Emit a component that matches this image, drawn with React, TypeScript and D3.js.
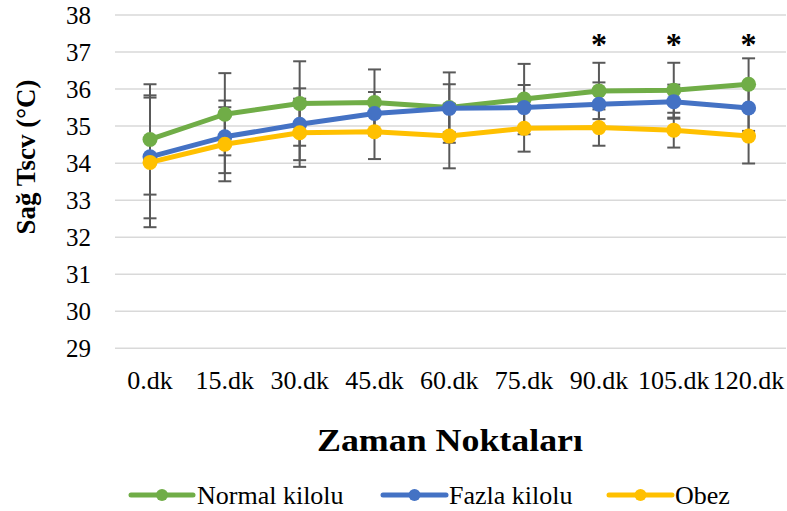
import React from "react";
import * as d3 from "d3";

const categories = ["0.dk", "15.dk", "30.dk", "45.dk", "60.dk", "75.dk", "90.dk", "105.dk", "120.dk"];
const normalKilolu = [34.64, 35.32, 35.61, 35.64, 35.5, 35.73, 35.95, 35.97, 36.13];
const fazlaKilolu = [34.17, 34.71, 35.05, 35.34, 35.48, 35.5, 35.59, 35.66, 35.49];
const obez = [34.02, 34.51, 34.82, 34.85, 34.73, 34.94, 34.96, 34.89, 34.73];
const normalErr = [1.49, 1.11, 1.14, 0.89, 0.95, 0.95, 0.76, 0.74, 0.7];
const fazlaErr = [1.66, 0.98, 0.97, 0.58, 0.65, 0.61, 0.59, 0.46, 0.62];
const obezErr = [1.75, 1.0, 0.92, 0.74, 0.87, 0.63, 0.49, 0.47, 0.74];
const yTicks = [29, 30, 31, 32, 33, 34, 35, 36, 37, 38];
const significant = ["90.dk", "105.dk", "120.dk"];

const seriesNames = ["Normal kilolu", "Fazla kilolu", "Obez"];
const seriesColors = ["#70AD47", "#4472C4", "#FFC000"];
const seriesValues = [normalKilolu, fazlaKilolu, obez];
const seriesErrs = [normalErr, fazlaErr, obezErr];

const FONT = "'Liberation Serif', 'Times New Roman', serif";

export default function App() {
  const W = 787;
  const H = 511;
  const x = d3.scalePoint<string>().domain(categories).range([112.6, 786]).padding(0.5);
  const y = d3.scaleLinear().domain([29, 38]).range([348.3, 15]);
  const line = d3
    .line<number>()
    .x((_, i) => x(categories[i]) as number)
    .y((d) => y(d));

  const legendItems = [
    { x0: 131, x1: 193, tx: 197 },
    { x0: 383, x1: 446, tx: 449 },
    { x0: 609, x1: 672, tx: 675 },
  ];

  return (
    <svg width={W} height={H} style={{ position: "absolute", left: 0, top: 0, background: "#fff" }}>
      {yTicks.map((t) => (
        <line key={"g" + t} x1={115} x2={786} y1={y(t)} y2={y(t)} stroke="#d9d9d9" strokeWidth={1.5} />
      ))}
      {yTicks.map((t) => (
        <text
          key={"yt" + t}
          x={91}
          y={y(t)}
          dy="0.35em"
          textAnchor="end"
          fontFamily={FONT}
          fontSize={25}
          fill="#000"
        >
          {t}
        </text>
      ))}
      {categories.map((c) => (
        <text
          key={"xt" + c}
          x={x(c)}
          y={389}
          textAnchor="middle"
          fontFamily={FONT}
          fontSize={26}
          fill="#000"
        >
          {c}
        </text>
      ))}
      <text
        x={450}
        y={451}
        textAnchor="middle"
        fontFamily={FONT}
        fontSize={31}
        fontWeight="bold"
        textLength={266}
        lengthAdjust="spacingAndGlyphs"
      >
        Zaman Noktaları
      </text>
      <text
        transform={`translate(35,157) rotate(-90)`}
        textAnchor="middle"
        fontFamily={FONT}
        fontSize={27}
        fontWeight="bold"
      >
        Sağ Tscv (°C)
      </text>
      {seriesValues.map((vals, si) => (
        <g key={"eb" + si} stroke="#595959" strokeWidth={2}>
          {vals.map((v, i) => {
            const cx = x(categories[i]) as number;
            const e = seriesErrs[si][i];
            const yt = y(v + e);
            const yb = y(v - e);
            return (
              <g key={i}>
                <line x1={cx} x2={cx} y1={yt} y2={yb} />
                <line x1={cx - 6.5} x2={cx + 6.5} y1={yt} y2={yt} />
                <line x1={cx - 6.5} x2={cx + 6.5} y1={yb} y2={yb} />
              </g>
            );
          })}
        </g>
      ))}
      {seriesValues.map((vals, si) => (
        <g key={"s" + si}>
          <path d={line(vals) || ""} fill="none" stroke={seriesColors[si]} strokeWidth={5} strokeLinejoin="round" />
          {vals.map((v, i) => (
            <circle key={i} cx={x(categories[i])} cy={y(v)} r={7.5} fill={seriesColors[si]} />
          ))}
        </g>
      ))}
      {significant.map((c) => (
        <text
          key={"sig" + c}
          x={x(c)}
          y={55}
          textAnchor="middle"
          fontFamily={FONT}
          fontSize={32}
          fontWeight="bold"
        >
          *
        </text>
      ))}
      {legendItems.map((it, i) => (
        <g key={"lg" + i}>
          <line x1={it.x0} x2={it.x1} y1={495} y2={495} stroke={seriesColors[i]} strokeWidth={5} strokeLinecap="round" />
          <circle cx={(it.x0 + it.x1) / 2} cy={495} r={6} fill={seriesColors[i]} />
          <text x={it.tx} y={495} dy="0.35em" fontFamily={FONT} fontSize={26} fill="#000">
            {seriesNames[i]}
          </text>
        </g>
      ))}
    </svg>
  );
}
